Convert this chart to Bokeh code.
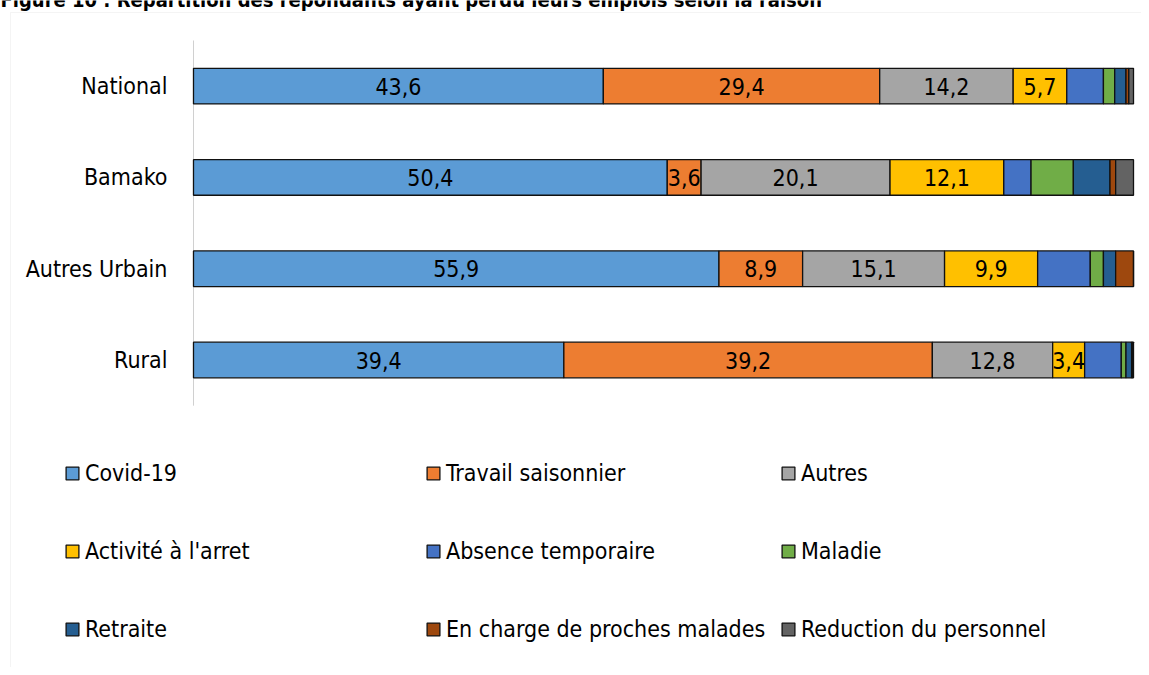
from bokeh.plotting import figure
from bokeh.models import ColumnDataSource, Range1d, Legend, LegendItem, BoxAnnotation, Label
from bokeh.core.properties import value
from bokeh.embed import file_html
from bokeh.resources import INLINE

# ---- data ----
categories = ["National", "Bamako", "Autres Urbain", "Rural"]
series_names = ["Covid-19", "Travail saisonnier", "Autres", "Activité à l'arret",
                "Absence temporaire", "Maladie", "Retraite",
                "En charge de proches malades", "Reduction du personnel"]
covid = [43.6, 50.4, 55.9, 39.4]
travail = [29.4, 3.6, 8.9, 39.2]
autres = [14.2, 20.1, 15.1, 12.8]
activite = [5.7, 12.1, 9.9, 3.4]
absence = [3.9, 2.9, 5.6, 3.9]
maladie = [1.2, 4.5, 1.4, 0.5]
retraite = [1.2, 3.9, 1.3, 0.6]
charge = [0.3, 0.6, 1.9, 0.1]
reduction = [0.5, 1.9, 0.0, 0.1]
colors = ["#5B9BD5", "#ED7D31", "#A5A5A5", "#FFC000", "#4472C4",
          "#70AD47", "#255E91", "#9E480E", "#636363"]
labelled = 4  # number of series carrying value labels
title_text = "Figure 10 : Répartition des répondants ayant perdu leurs emplois selon la raison"

FONT = "'Liberation Sans Narrow', 'Arial Narrow', 'DejaVu Sans Condensed', 'Liberation Sans', sans-serif"
FS = "23px"

values = [covid, travail, autres, activite, absence, maladie, retraite, charge, reduction]
keys = ["s%d" % i for i in range(len(values))]
ypos = [len(categories) - 1 - i for i in range(len(categories))]  # National on top
data = {"y": ypos, "cat": categories}
for k, v in zip(keys, values):
    data[k] = v
source = ColumnDataSource(data)

p = figure(width=1141, height=667, output_backend="svg", toolbar_location=None,
           x_range=Range1d(-20.53, 100.85), y_range=Range1d(-3.368, 3.938),
           min_border=0, x_axis_location=None, y_axis_location=None)
p.outline_line_color = None
p.xgrid.visible = False
p.ygrid.visible = False

# category axis line
p.segment(x0=[0], y0=[-0.5], x1=[0], y1=[len(categories) - 0.5],
          line_color="#d0d0d0", line_width=1)

renderers = p.hbar_stack(keys, y="y", height=0.39, color=colors, source=source,
                         line_color="#111111", line_width=1.3)

# category labels
p.text(x=-2.77, y="y", text="cat", source=source, text_align="right",
       text_baseline="middle", text_font=value(FONT), text_font_size=FS,
       text_color="#000000")

# value labels
lx, ly, lt = [], [], []
for ci in range(len(categories)):
    start = 0.0
    for si in range(labelled):
        v = values[si][ci]
        lx.append(start + v / 2.0)
        ly.append(ypos[ci])
        lt.append(("%.1f" % v).replace(".", ","))
        start += v
p.text(x=lx, y=ly, text=lt, text_align="center", text_baseline="middle",
       text_font=value(FONT), text_font_size=FS, text_color="#000000")

# legends: three columns
cols_x = [64, 425, 780]
for c in range(3):
    items = []
    for r in range(3):
        idx = r * 3 + c
        items.append(LegendItem(label=series_names[idx], renderers=[renderers[idx]]))
    leg = Legend(items=items, location=(cols_x[c], 25), orientation="vertical",
                 spacing=52, padding=0, margin=0, glyph_width=16, glyph_height=16,
                 label_standoff=5, label_text_font=FONT, label_text_font_size=FS,
                 label_text_color="#000000", border_line_color=None,
                 background_fill_alpha=0)
    p.add_layout(leg)

# chart border (extends past the right and bottom edges)
p.add_layout(BoxAnnotation(left=10, top=12, right=1300, bottom=900,
                           left_units="canvas", top_units="canvas",
                           right_units="canvas", bottom_units="canvas",
                           fill_alpha=0, line_color="#d9d9d9", line_width=1))

# title, cropped at the top as in the source image
p.add_layout(Label(x=0, y=-1, x_units="canvas", y_units="canvas", text=title_text,
                   text_font=FONT, text_font_style="bold", text_font_size="20px",
                   text_baseline="alphabetic", text_color="#000000"))

open("out.html", "w").write(file_html(p, INLINE))
